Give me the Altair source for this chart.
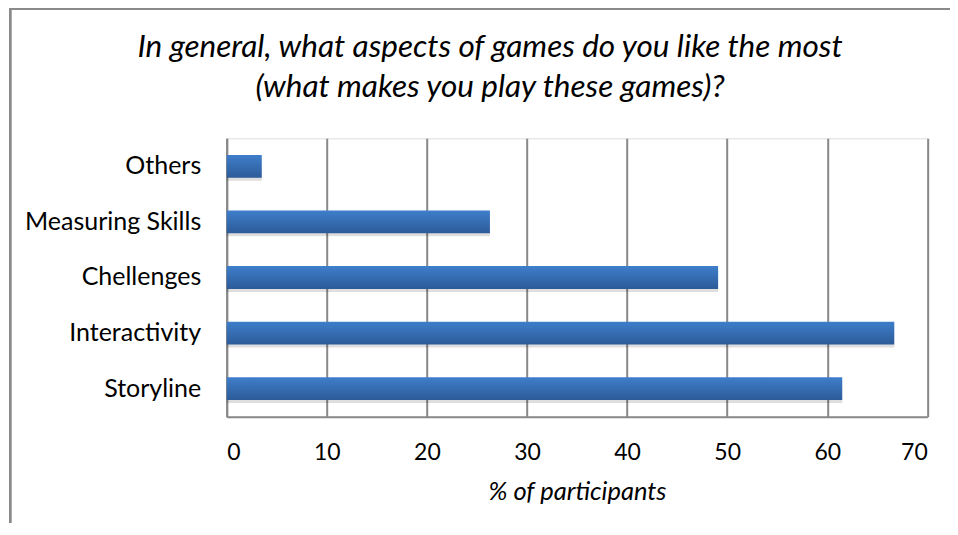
import altair as alt
import pandas as pd

categories = ["Others", "Measuring Skills", "Chellenges", "Interactivity", "Storyline"]
values = [3.5, 26.3, 49.1, 66.7, 61.5]
x_ticks = [0, 10, 20, 30, 40, 50, 60, 70]
title_lines = ["In general, what aspects of games do you like the most",
               "(what makes you play these games)?"]
x_title = "% of participants"

df = pd.DataFrame({"category": categories, "value": values})

FONT = "Lato"
GRID = "#888888"

y_enc = alt.Y("category:N", sort=categories, title=None,
              scale=alt.Scale(paddingInner=0.59, paddingOuter=0.3),
              axis=alt.Axis(labelFont=FONT, labelFontSize=25, labelColor="#000000",
                            labelPadding=26, ticks=False, domainColor=GRID,
                            domainWidth=2, grid=False))
x_enc = alt.X("value:Q", title=x_title,
              scale=alt.Scale(domain=[0, 70], nice=False),
              axis=alt.Axis(values=x_ticks, labelFont=FONT, labelFontSize=23,
                            labelColor="#000000", labelPadding=25, ticks=False,
                            domainColor=GRID, domainWidth=2,
                            grid=True, gridColor=GRID, gridWidth=2,
                            titleFont=FONT, titleFontSize=25.5, titleFontStyle="italic",
                            titleFontWeight="normal", titleColor="#000000",
                            titlePadding=15))

# chart-area frame: left and top edges (the right and bottom edges lie outside the page)
frame_top = alt.Chart(df).mark_rule(stroke="#8a8a8a", strokeWidth=2).encode(
    x=alt.value(-216.5), x2=alt.value(740), y=alt.value(-129.3)
)
frame_left = alt.Chart(df).mark_rule(stroke="#8a8a8a", strokeWidth=2).encode(
    x=alt.value(-216.5), y=alt.value(-130.3), y2=alt.value(430)
)

title_df = pd.DataFrame({"line1": [title_lines[0]], "line2": [title_lines[1]]})
title1 = alt.Chart(title_df).mark_text(
    font=FONT, fontSize=31.5, fontStyle="italic", color="#000000",
    align="center", baseline="alphabetic"
).encode(text="line1:N", x=alt.value(263.3), y=alt.value(-81.3))
title2 = alt.Chart(title_df).mark_text(
    font=FONT, fontSize=31.5, fontStyle="italic", color="#000000",
    align="center", baseline="alphabetic"
).encode(text="line2:N", x=alt.value(263.3), y=alt.value(-41.3))

shadow = alt.Chart(df).mark_bar(color="#000000", opacity=0.13, yOffset=3,
                                 y2Offset=3, x2Offset=3).encode(x=x_enc, y=y_enc)

bars = alt.Chart(df).mark_bar(
    color=alt.Gradient(gradient="linear",
                       stops=[alt.GradientStop(color="#3f7ecb", offset=0),
                              alt.GradientStop(color="#2c5b98", offset=1)],
                       x1=0, x2=0, y1=0, y2=1)
).encode(x=x_enc, y=y_enc)

chart = alt.layer(frame_top, frame_left, shadow, bars, title1, title2).properties(
    width=700.6, height=278.4,
    autosize=alt.AutoSizeParams(type="none"),
    padding={"left": 218.7, "top": 130.3, "right": 22.7, "bottom": 106},
).configure_view(stroke=None).configure(background="white")

chart.save("out.html", embed_options={"renderer": "svg", "actions": False})
